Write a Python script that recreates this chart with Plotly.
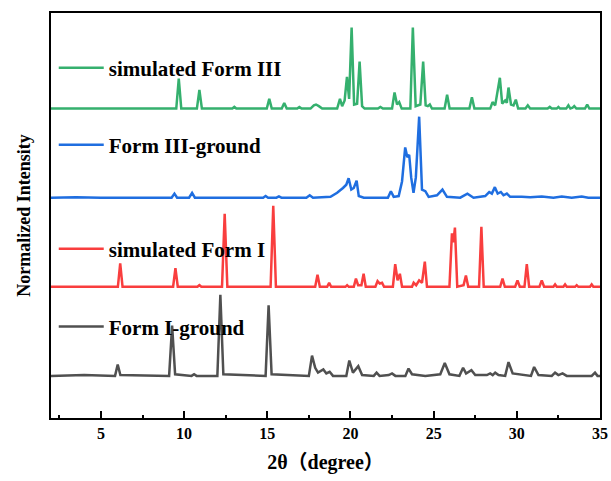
import plotly.graph_objects as go

# ---- data: pattern vertices (2θ, normalized intensity) ----
sim3_x = [2, 9.53, 9.68, 9.83, 10.77, 10.92, 11.07, 12.9, 13.02, 13.14, 14.97, 15.12, 15.27,
          15.87, 16.02, 16.17, 16.8, 16.93, 17.06, 17.6, 17.8, 17.93, 18.1, 18.3, 19.2, 19.37,
          19.5, 19.65, 19.79, 19.92, 20.07, 20.22, 20.4, 20.55, 20.7, 20.85, 21.65, 21.8, 21.95,
          22.5, 22.65, 22.8, 22.93, 23.08, 23.6, 23.75, 23.92, 24.2, 24.37, 24.52, 24.65, 24.77,
          24.9, 25.66, 25.81, 25.96, 27.15, 27.3, 27.45, 28.4, 28.54, 28.7, 28.98, 29.12, 29.3,
          29.4, 29.5, 29.65, 29.8, 29.94, 30.08, 30.52, 30.66, 30.8, 31.85, 31.98, 32.1, 32.4,
          32.5, 32.6, 32.97, 33.1, 33.22, 33.35, 33.45, 33.58, 34.1, 34.23, 34.36, 35]
sim3_y = [0, 0, 0.37, 0, 0, 0.23, 0, 0, 0.02, 0, 0, 0.12, 0,
          0, 0.07, 0, 0, 0.02, 0, 0, 0.04, 0.05, 0.03, 0, 0, 0.12,
          0.03, 0.10, 0.39, 0.12, 1.0, 0.05, 0.06, 0.58, 0.03, 0, 0, 0.02, 0,
          0, 0.20, 0.05, 0.08, 0, 0, 1.0, 0.03, 0.05, 0.58, 0.04, 0.03, 0.05,
          0, 0, 0.17, 0, 0, 0.14, 0, 0, 0.08, 0.04, 0.38, 0.06, 0.10,
          0.07, 0.26, 0.05, 0.04, 0.11, 0, 0, 0.04, 0, 0, 0.02, 0, 0,
          0.02, 0, 0, 0.04, 0, 0.01, 0.03, 0, 0, 0.05, 0, 0]

gr3_x = [2, 3.5, 5, 9.25, 9.42, 9.58, 10.3, 10.48, 10.65, 14.75, 14.9, 15.05, 15.55, 15.7, 15.85,
         17.35, 17.55, 17.75, 18.8, 19.2, 19.55, 19.75, 19.89, 20.05, 20.2, 20.37, 20.5, 20.8,
         22.25, 22.43, 22.6, 22.9, 23.1, 23.29, 23.42, 23.53, 23.65, 23.79, 23.93, 24.13, 24.3,
         24.5, 24.7, 25.2, 25.53, 25.8, 26.6, 27.03, 27.4, 28.1, 28.34, 28.5, 28.68, 28.85,
         29.04, 29.2, 29.4, 29.6, 30.3, 30.8, 31.5, 32.2, 32.7, 33.3, 33.9, 34.3, 35]
gr3_y = [0, 0.005, 0, 0, 0.05, 0, 0, 0.06, 0, 0, 0.02, 0, 0, 0.015, 0,
         0, 0.03, 0, 0.01, 0.06, 0.12, 0.16, 0.24, 0.10, 0.12, 0.21, 0.02, 0,
         0, 0.08, 0.01, 0.02, 0.20, 0.62, 0.50, 0.53, 0.25, 0.06, 0.25, 1.0, 0.10,
         0.08, 0.01, 0.03, 0.10, 0.01, 0, 0.05, 0, 0.02, 0.07, 0.05, 0.13, 0.05,
         0.07, 0.03, 0.05, 0.01, 0.01, 0.005, 0.015, 0, 0.015, 0, 0.015, 0, 0]

sim1_x = [2, 6.02, 6.16, 6.3, 9.34, 9.48, 9.62, 10.8, 10.92, 11.04, 12.28, 12.44, 12.6,
          15.2, 15.36, 15.52, 17.88, 18.02, 18.16, 18.6, 18.72, 18.84, 19.7, 19.8, 19.9,
          20.2, 20.33, 20.46, 20.66, 20.79, 20.92, 21.5, 21.63, 21.76, 21.9, 22.02, 22.55,
          22.69, 22.83, 22.97, 23.1, 23.7, 23.8, 23.95, 24.13, 24.3, 24.47, 24.6, 25.95,
          26.1, 26.19, 26.28, 26.42, 26.8, 26.94, 27.08, 27.73, 27.87, 28.01, 29.0, 29.14,
          29.28, 29.9, 30.04, 30.18, 30.46, 30.6, 30.74, 31.36, 31.5, 31.64, 32.2, 32.3,
          32.4, 32.8, 32.9, 33.0, 33.5, 33.6, 33.7, 34.4, 34.5, 34.6, 35]
sim1_y = [0, 0, 0.29, 0, 0, 0.23, 0, 0, 0.02, 0, 0, 0.90, 0,
          0, 1.0, 0, 0, 0.15, 0, 0, 0.05, 0, 0, 0.02, 0,
          0, 0.10, 0.02, 0.02, 0.16, 0, 0, 0.07, 0.04, 0.05, 0, 0,
          0.28, 0.08, 0.16, 0, 0, 0.05, 0.02, 0.08, 0.05, 0.31, 0, 0,
          0.66, 0.55, 0.73, 0, 0.02, 0.14, 0, 0, 0.74, 0, 0, 0.10,
          0, 0, 0.08, 0, 0, 0.28, 0, 0, 0.08, 0, 0, 0.03,
          0, 0, 0.03, 0, 0, 0.02, 0, 0, 0.03, 0, 0]

gr1_x = [2, 4, 5.85, 6.01, 6.17, 9.1, 9.28, 9.46, 10.45, 10.6, 10.75, 12.0, 12.18, 12.36,
         14.9, 15.08, 15.26, 17.5, 17.69, 17.88, 18.05, 18.37, 18.55, 18.75, 18.95, 19.75,
         19.93, 20.15, 20.47, 20.7, 21.4, 21.57, 21.75, 22.3, 22.5, 22.7, 23.3, 23.49, 23.7,
         24.5, 25.4, 25.67, 25.95, 26.55, 26.77, 26.95, 27.27, 27.5, 28.2, 28.4, 28.55, 28.7,
         28.9, 29.3, 29.5, 29.75, 30.85, 31.04, 31.3, 32.1, 32.3, 32.5, 32.75, 33, 34.5,
         34.7, 34.85, 35]
gr1_y = [0, 0.01, 0, 0.14, 0.01, 0, 0.62, 0.02, 0, 0.02, 0, 0, 1.0, 0.02,
         0, 0.87, 0.02, 0, 0.25, 0.10, 0.04, 0.08, 0.03, 0.05, 0, 0,
         0.19, 0.04, 0.12, 0.01, 0, 0.04, 0, 0.01, 0.03, 0, 0, 0.09, 0.02,
         0, 0.02, 0.16, 0.02, 0, 0.10, 0.03, 0.07, 0.01, 0.01, 0.03, 0.01, 0.04,
         0.01, 0, 0.17, 0.03, 0, 0.11, 0.01, 0, 0.04, 0.01, 0.03, 0, 0,
         0.04, 0, 0]

names = ["simulated Form III", "Form III-ground", "simulated Form I", "Form I-ground"]
offsets = [3.3, 2.2, 1.1, 0.0]
colors = ["#35b06e", "#1f6ee0", "#f93e3e", "#505050"]
xs = [sim3_x, gr3_x, sim1_x, gr1_x]
ys = [sim3_y, gr3_y, sim1_y, gr1_y]
legend_ids = ["legend", "legend2", "legend3", "legend4"]
legend_y = [0.864, 0.674, 0.417, 0.225]

SERIF = "Liberation Serif, Times New Roman, serif"

fig = go.Figure()
for nm, off, c, x, y, lg in zip(names, offsets, colors, xs, ys, legend_ids):
    fig.add_trace(go.Scatter(
        x=x, y=[v + off for v in y], mode="lines", name=nm,
        line=dict(color=c, width=2.5), legend=lg, showlegend=True,
    ))

legend_common = dict(
    x=0.005, xanchor="left", yanchor="middle", bgcolor="rgba(0,0,0,0)",
    font=dict(family=SERIF, size=21, color="black", weight="bold"),
    itemwidth=45, borderwidth=0,
)
layout_legends = {}
for lg, ly in zip(legend_ids, legend_y):
    layout_legends[lg] = dict(legend_common, y=ly)

fig.update_layout(
    width=611, height=481,
    margin=dict(l=51, r=11, t=13, b=63),
    paper_bgcolor="white", plot_bgcolor="white",
    font=dict(family=SERIF, color="black"),
    **layout_legends,
)
fig.update_xaxes(
    range=[2, 35], tickmode="linear", tick0=0, dtick=5, automargin=False,
    ticks="inside", ticklen=7, tickwidth=2, tickcolor="black",
    minor=dict(ticks="inside", dtick=2.5, tick0=0, ticklen=3, tickwidth=2, tickcolor="black"),
    showline=True, linewidth=2, linecolor="black", mirror=True,
    showgrid=False, zeroline=False,
    tickfont=dict(family=SERIF, size=16, color="black", weight="bold"),
    title=dict(text="2θ（degree）", standoff=14,
               font=dict(family=SERIF + ", Noto Sans CJK SC", size=20, color="black", weight="bold")),
)
fig.update_yaxes(
    range=[-0.52, 4.48], showticklabels=False, ticks="", automargin=False,
    showline=True, linewidth=2, linecolor="black", mirror=True,
    showgrid=False, zeroline=False,
    title=dict(text="Normalized Intensity", standoff=14,
               font=dict(family=SERIF, size=18, color="black", weight="bold")),
)

fig.write_html("out.html")
